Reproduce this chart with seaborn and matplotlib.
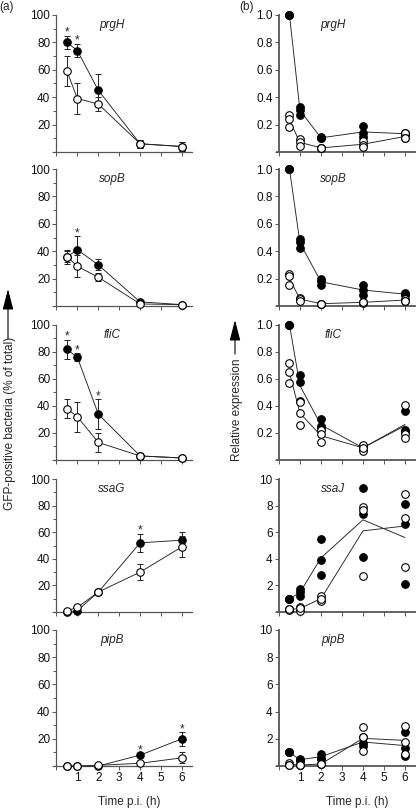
import numpy as np
import pandas as pd
import matplotlib
matplotlib.use("Agg")
import matplotlib.pyplot as plt
import seaborn as sns
from matplotlib.ticker import MultipleLocator

sns.set_style("ticks")
plt.rcParams["font.family"] = ["Liberation Sans", "DejaVu Sans"]

# sampling times (h p.i.)
times = [0.5, 1, 2, 4, 6]
genes_a = ["prgH", "sopB", "fliC", "ssaG", "pipB"]
genes_b = ["prgH", "sopB", "fliC", "ssaJ", "pipB"]

# (a) GFP-positive bacteria (% of total): mean and error bar, filled / open symbols
prgH_filled = [80, 74, 45, 6, 4]
prgH_filled_err = [5, 5, 12, 3, 3]
prgH_open = [59, 39, 35, 6, 4]
prgH_open_err = [11, 11, 5, 3, 3]
prgH_stars = [0.5, 1]

sopB_filled = [36, 41, 30, 3, 1]
sopB_filled_err = [4, 10, 4, 1, 0.5]
sopB_open = [36, 29, 21, 1.5, 1]
sopB_open_err = [5, 8, 3, 1, 0.5]
sopB_stars = [1]

fliC_filled = [82, 76, 34, 3, 1.5]
fliC_filled_err = [7, 3, 11, 2, 0.5]
fliC_open = [38, 32, 13, 3, 1.5]
fliC_open_err = [7, 11, 7, 1, 0.5]
fliC_stars = [0.5, 1, 2]

ssaG_filled = [0, 1, 15, 52, 54]
ssaG_filled_err = [1, 1, 2, 7, 6]
ssaG_open = [1, 3.5, 15, 30, 49]
ssaG_open_err = [1, 1, 2, 6, 8]
ssaG_stars = [4]

pipB_filled = [0, 0, 0, 8, 20]
pipB_filled_err = [0.5, 0.5, 0.5, 1, 5]
pipB_open = [0, 0, 0.5, 2, 6]
pipB_open_err = [0.5, 0.5, 0.5, 1, 4]
pipB_stars = [4, 6]

# (b) relative expression, three replicates per time point
prgH_rel_filled = [[1.0, 1.0, 1.0], [0.33, 0.31, 0.27], [0.11, 0.10, 0.10], [0.19, 0.14, 0.11], [0.14, 0.13, 0.13]]
prgH_rel_open = [[0.27, 0.24, 0.18], [0.095, 0.07, 0.046], [0.03, 0.03, 0.03], [0.08, 0.05, 0.04], [0.14, 0.10, 0.10]]

sopB_rel_filled = [[1.0, 1.0, 1.0], [0.49, 0.47, 0.42], [0.20, 0.18, 0.15], [0.15, 0.12, 0.08], [0.095, 0.085, 0.08]]
sopB_rel_open = [[0.23, 0.22, 0.15], [0.06, 0.05, 0.04], [0.017, 0.017, 0.017], [0.03, 0.02, 0.03], [0.05, 0.04, 0.04]]

fliC_rel_filled = [[1.0, 1.0, 1.0], [0.63, 0.58, 0.44], [0.30, 0.25, 0.23], [0.10, 0.09, 0.08], [0.36, 0.22, 0.21]]
fliC_rel_open = [[0.72, 0.65, 0.57], [0.43, 0.35, 0.26], [0.22, 0.19, 0.13], [0.11, 0.07, 0.09], [0.41, 0.19, 0.16]]

ssaJ_rel_filled = [[1.0, 1.0, 1.0], [1.7, 1.5, 1.2], [5.5, 3.9, 2.8], [9.3, 7.4, 4.1], [8.1, 6.6, 2.1]]
ssaJ_rel_open = [[0.2, 0.15, 0.2], [0.4, 0.1, 0.3], [1.2, 0.8, 1.0], [7.9, 7.7, 2.7], [8.9, 7.1, 3.4]]

pipB_rel_filled = [[1.0, 1.0, 1.0], [0.55, 0.4, 0.45], [0.9, 0.6, 0.55], [2.1, 1.7, 1.5], [2.5, 1.3, 0.7]]
pipB_rel_open = [[0.25, 0.07, 0.1], [0.07, 0.07, 0.07], [0.15, 0.15, 0.15], [2.9, 2.1, 1.1], [2.95, 1.8, 0.9]]

panel_a_data = [
    (prgH_filled, prgH_filled_err, prgH_open, prgH_open_err, prgH_stars),
    (sopB_filled, sopB_filled_err, sopB_open, sopB_open_err, sopB_stars),
    (fliC_filled, fliC_filled_err, fliC_open, fliC_open_err, fliC_stars),
    (ssaG_filled, ssaG_filled_err, ssaG_open, ssaG_open_err, ssaG_stars),
    (pipB_filled, pipB_filled_err, pipB_open, pipB_open_err, pipB_stars),
]
panel_b_data = [
    (prgH_rel_filled, prgH_rel_open, 1.0),
    (sopB_rel_filled, sopB_rel_open, 1.0),
    (fliC_rel_filled, fliC_rel_open, 1.0),
    (ssaJ_rel_filled, ssaJ_rel_open, 10),
    (pipB_rel_filled, pipB_rel_open, 10),
]

W, H = 416, 808
FS = 8.5
AX_COL = "#555555"
LINE_COL = "#222222"
panel_tops = [15, 169, 325, 479, 630]
panel_bottoms = [152, 306, 460, 612, 766]

fig = plt.figure(figsize=(W / 100, H / 100), dpi=100)


def add_axes_px(left, top, width, bottom):
    return fig.add_axes([left / W, 1 - bottom / H, width / W, (bottom - top) / H])


def style_axis(ax, ymax, major, minor, fmt, last, spine_lw):
    sns.despine(ax=ax)
    ax.set_xlim(-0.1, 6.5)
    ax.set_ylim(0, ymax)
    ax.spines["left"].set_position(("data", 0))
    for side in ["left", "bottom"]:
        ax.spines[side].set_color(AX_COL)
        ax.spines[side].set_linewidth(spine_lw)
    ax.set_xticks(range(0, 7))
    ax.set_xticklabels([""] + [str(i) for i in range(1, 7)])
    ticks = np.arange(0, ymax + major / 2, major)
    ax.set_yticks(ticks)
    ax.set_yticklabels([""] + [fmt % t for t in ticks[1:]])
    if minor:
        ax.yaxis.set_minor_locator(MultipleLocator(minor))
    ax.tick_params(which="both", direction="out", width=0.7, color=AX_COL, labelsize=FS,
                   labelcolor="#111111", pad=1.5)
    ax.tick_params(which="major", length=3)
    ax.tick_params(which="minor", length=2.5)
    ax.tick_params(axis="x", labelbottom=last)
    ax.set_xlabel("")
    ax.set_ylabel("")


for i in range(5):
    top, bottom = panel_tops[i], panel_bottoms[i]
    last = i == 4

    # (a) flow cytometry, mean +/- error
    ax = add_axes_px(54.4, top, 138.0, bottom)
    filled, filled_err, opn, opn_err, stars = panel_a_data[i]
    for z, (mean, err, face) in enumerate([(filled, filled_err, "black"), (opn, opn_err, "white")]):
        ax.errorbar(times, mean, yerr=err, fmt="none", ecolor=LINE_COL, elinewidth=0.7,
                    capsize=2.5, capthick=0.7, zorder=2 + 2 * z, clip_on=False)
        sns.lineplot(x=times, y=mean, ax=ax, color=LINE_COL, lw=0.65, marker="o", markersize=5.4,
                     markerfacecolor=face, markeredgecolor="black", markeredgewidth=0.8,
                     zorder=3 + 2 * z, clip_on=False)
    for t in stars:
        k = times.index(t)
        ax.text(t, filled[k] + filled_err[k], "*", ha="center", va="baseline", fontsize=FS)
    ax.text(0.417, 0.927, genes_a[i], transform=ax.transAxes, ha="center", va="center",
            fontsize=FS, style="italic")
    style_axis(ax, 100, 20, 10, "%d", last, 0.9)

    # (b) relative expression, replicates and mean line
    ax = add_axes_px(276.9, top, 138.5, bottom)
    rel_filled, rel_open, ymax = panel_b_data[i]
    for z, (reps, face) in enumerate([(rel_filled, "black"), (rel_open, "white")]):
        df = pd.DataFrame({"time": np.repeat(times, 3), "value": np.concatenate(reps)})
        sns.lineplot(data=df, x="time", y="value", estimator="mean", errorbar=None, ax=ax,
                     color=LINE_COL, lw=0.65, zorder=3 + 2 * z)
        sns.scatterplot(data=df, x="time", y="value", ax=ax, s=30, color=face, edgecolor="black",
                        linewidth=0.8, zorder=4 + 2 * z, clip_on=False)
    ax.text(0.406, 0.927, genes_b[i], transform=ax.transAxes, ha="center", va="center",
            fontsize=FS, style="italic")
    if ymax == 1.0:
        style_axis(ax, 1.0, 0.2, None, "%.1f", last, 1.3)
    else:
        style_axis(ax, 10, 2, None, "%d", last, 1.3)

# panel letters, axis titles
fig.text(7 / W, 1 - 7 / H, "(a)", ha="center", va="center", fontsize=FS)
fig.text(246 / W, 1 - 7 / H, "(b)", ha="center", va="center", fontsize=FS)
fig.text(129 / W, 1 - 802 / H, "Time p.i. (h)", ha="center", va="center", fontsize=FS)
fig.text(357 / W, 1 - 802 / H, "Time p.i. (h)", ha="center", va="center", fontsize=FS)
fig.text(10 / W, 1 - 423 / H, "GFP-positive bacteria (% of total)", rotation=90,
         ha="center", va="center", fontsize=FS)
fig.text(237 / W, 1 - 410 / H, "Relative expression", rotation=90,
         ha="center", va="center", fontsize=FS)

arrow_kw = dict(arrowstyle="-|>,head_length=0.85,head_width=0.22", color="black", lw=0.8,
                mutation_scale=15, shrinkA=0, shrinkB=0)
fig.axes[0].annotate("", xy=(8 / W, 1 - 289 / H), xytext=(8 / W, 1 - 339 / H),
                     xycoords="figure fraction", textcoords="figure fraction", arrowprops=arrow_kw)
fig.axes[0].annotate("", xy=(235 / W, 1 - 320 / H), xytext=(235 / W, 1 - 354 / H),
                     xycoords="figure fraction", textcoords="figure fraction", arrowprops=arrow_kw)

fig.savefig("out.png", dpi=100)
